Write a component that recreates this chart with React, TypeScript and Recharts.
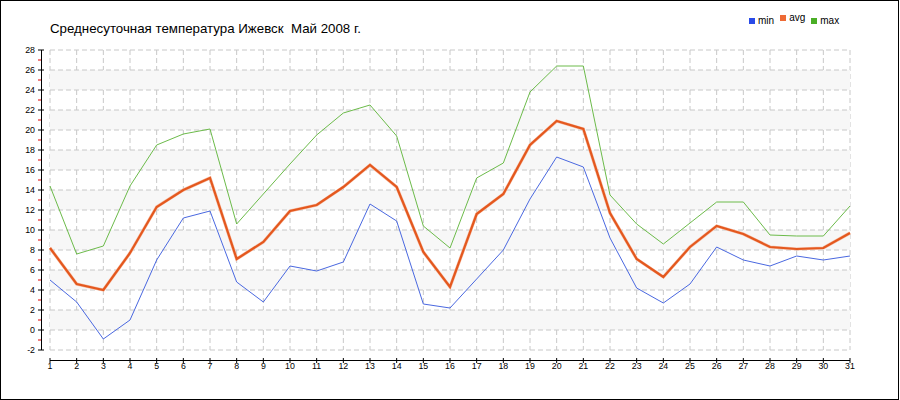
import React from 'react';
import { LineChart, Line, XAxis, YAxis, CartesianGrid, ReferenceLine, ReferenceArea } from 'recharts';

const days = [1, 2, 3, 4, 5, 6, 7, 8, 9, 10, 11, 12, 13, 14, 15, 16, 17, 18, 19, 20, 21, 22, 23, 24, 25, 26, 27, 28, 29, 30, 31];
const minT = [5.0, 2.8, -0.9, 1.0, 7.0, 11.2, 11.9, 4.8, 2.8, 6.4, 5.9, 6.8, 12.6, 10.9, 2.6, 2.2, 5.1, 8.0, 13.1, 17.3, 16.3, 9.2, 4.2, 2.7, 4.6, 8.3, 7.0, 6.4, 7.4, 7.0, 7.4];
const avgT = [8.2, 4.6, 4.0, 7.7, 12.3, 14.0, 15.2, 7.1, 8.8, 11.9, 12.5, 14.3, 16.5, 14.3, 7.8, 4.3, 11.6, 13.6, 18.5, 20.9, 20.1, 11.7, 7.1, 5.3, 8.3, 10.4, 9.6, 8.3, 8.1, 8.2, 9.7];
const maxT = [14.4, 7.6, 8.4, 14.4, 18.5, 19.6, 20.1, 10.6, 13.6, 16.6, 19.5, 21.7, 22.5, 19.4, 10.4, 8.2, 15.2, 16.7, 23.8, 26.4, 26.4, 13.5, 10.6, 8.6, 10.7, 12.8, 12.8, 9.5, 9.4, 9.4, 12.4];

const yTicksAll = [-2, -1, 0, 1, 2, 3, 4, 5, 6, 7, 8, 9, 10, 11, 12, 13, 14, 15, 16, 17, 18, 19, 20, 21, 22, 23, 24, 25, 26, 27, 28];
const yTicksGrid = [-2, 0, 2, 4, 6, 8, 10, 12, 14, 16, 18, 20, 22, 24, 26, 28];
const grayBandStarts = [0, 4, 8, 12, 16, 20, 24];

const title = 'Среднесуточная температура Ижевск  Май 2008 г.';
const legendItems = [
  { key: 'min', label: 'min', color: '#2a4be8' },
  { key: 'avg', label: 'avg', color: '#ee6a35' },
  { key: 'max', label: 'max', color: '#4aae26' },
];

const data = days.map((d, i) => ({ day: d, min: minT[i], avg: avgT[i], max: maxT[i] }));

const TICK_FONT = "'Liberation Sans', Arial, sans-serif";
const GRID_COLOR = '#c8c8c8';

const YTick = (props: any) => {
  const { x, y, payload } = props;
  const v = payload.value;
  const ax = x - 9;
  if (v % 2 !== 0) {
    return <line x1={ax - 3} x2={ax} y1={y} y2={y} stroke="#e00000" strokeWidth={1} />;
  }
  return (
    <g>
      <line x1={ax - 3} x2={ax + 3} y1={y} y2={y} stroke="#000" strokeWidth={1} />
      <text x={ax - 6} y={y + 3} textAnchor="end" fontSize={8.8} fontFamily={TICK_FONT} fill="#000">
        {v}
      </text>
    </g>
  );
};

const XTick = (props: any) => {
  const { x, y, payload } = props;
  const ay = y + 10;
  return (
    <g>
      <line x1={x} x2={x} y1={ay - 2} y2={ay + 3} stroke="#000" strokeWidth={1} />
      <text x={x} y={ay + 9} textAnchor="middle" fontSize={8.8} fontFamily={TICK_FONT} fill="#000">
        {payload.value}
      </text>
    </g>
  );
};

export default function App() {
  return (
    <div style={{ position: 'absolute', left: 0, top: 0, width: 900, height: 400, background: '#fff' }}>
      <LineChart
        width={900}
        height={400}
        data={data}
        margin={{ top: 50, right: 50, bottom: 20, left: 0 }}
      >
        {grayBandStarts.map((s) => (
          <ReferenceArea key={'b' + s} y1={s} y2={s + 2} fill="#f7f7f7" fillOpacity={1} stroke="none" />
        ))}
        <CartesianGrid horizontal={false} stroke={GRID_COLOR} strokeDasharray="5 3" />
        {yTicksGrid.map((v) => (
          <ReferenceLine key={'h' + v} y={v} stroke={GRID_COLOR} strokeDasharray="5 3" />
        ))}
        <XAxis
          dataKey="day"
          type="number"
          domain={[1, 31]}
          ticks={days}
          interval={0}
          axisLine={false}
          tickLine={false}
          tickSize={0}
          tickMargin={0}
          height={30}
          tick={<XTick />}
        />
        <YAxis
          type="number"
          domain={[-2, 28]}
          ticks={yTicksAll}
          interval={0}
          width={50}
          axisLine={false}
          tickLine={false}
          tickSize={0}
          tickMargin={0}
          tick={<YTick />}
        />
        <line x1={41.5} x2={41.5} y1={50} y2={350} stroke="#000" strokeWidth={1} />
        <line x1={50} x2={850} y1={360.5} y2={360.5} stroke="#000" strokeWidth={1} />
        <Line type="linear" dataKey="max" stroke="#6cbb4a" strokeWidth={1} dot={false} isAnimationActive={false} />
        <Line type="linear" dataKey="min" stroke="#4a68e0" strokeWidth={1} dot={false} isAnimationActive={false} />
        <Line type="linear" dataKey="avg" stroke="#f6c0aa" strokeWidth={3.2} dot={false} isAnimationActive={false} legendType="none" />
        <Line type="linear" dataKey="avg" stroke="#e4581e" strokeWidth={2.2} dot={false} isAnimationActive={false} />
      </LineChart>
      <div
        style={{
          position: 'absolute',
          left: 50,
          top: 21,
          fontFamily: "'Liberation Sans', Arial, sans-serif",
          fontSize: 13.3,
          lineHeight: '15px',
          whiteSpace: 'pre',
          color: '#000',
        }}
      >
        {title}
      </div>
      <div style={{ position: 'absolute', left: 749, top: 15, display: 'flex', fontFamily: TICK_FONT, fontSize: 10, color: '#000' }}>
        {legendItems.map((it) => (
          <div key={it.key} style={{ display: 'flex', alignItems: 'center', marginRight: 6, position: 'relative', top: it.key === 'avg' ? -3 : 0 }}>
            <span style={{ display: 'inline-block', width: 6, height: 6, background: it.color, marginRight: 3 }} />
            <span>{it.label}</span>
          </div>
        ))}
      </div>
      <div
        style={{
          position: 'absolute',
          left: 0,
          top: 0,
          width: 899,
          height: 400,
          border: '1px solid #000',
          boxSizing: 'border-box',
          pointerEvents: 'none',
        }}
      />
    </div>
  );
}
